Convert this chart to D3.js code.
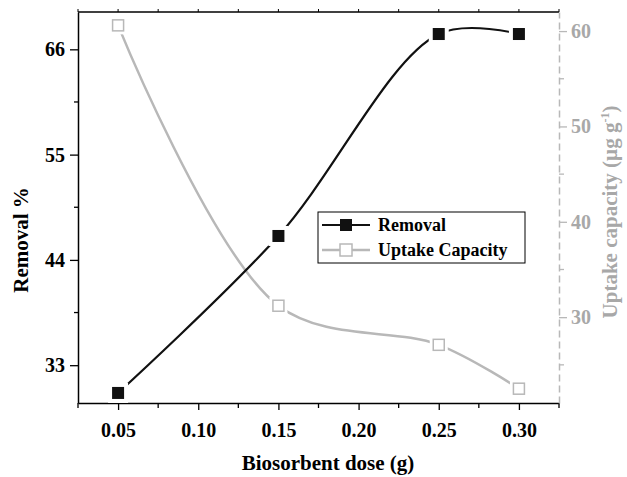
<!DOCTYPE html>
<html lang="en">
<head>
    <meta charset="UTF-8">
    <title>Removal and uptake capacity</title>
    <style>
        body { margin: 0; background: #fff; }
        svg text { font-family: "Liberation Serif", "DejaVu Serif", serif; font-weight: bold; }
    </style>
</head>

<body>
    <div id="graph"></div>
    <script src="https://d3js.org/d3.v7.min.js"></script>

    <script>
        // Data
        const DOSES = [0.05, 0.15, 0.25, 0.30];
        const REMOVAL = [30.1, 46.5, 67.6, 67.6];
        const UPTAKE = [60.6, 31.2, 27.1, 22.5];
        const X_TICKS = [0.05, 0.10, 0.15, 0.20, 0.25, 0.30];
        const LEFT_TICKS = [33, 44, 55, 66];
        const RIGHT_TICKS = [30, 40, 50, 60];
        const SERIES_NAMES = ["Removal", "Uptake Capacity"];

        const WIDTH = 627;
        const HEIGHT = 477;
        const LEFT = 78, RIGHT = 559, TOP = 12, BOTTOM = 403;
        const GREY = "#b8b8b8";
        const GREY_TEXT = "#a8a8a8";

        const xScale = d3.scaleLinear().domain([0.025, 0.325]).range([LEFT, RIGHT]);
        const yLeft = d3.scaleLinear().domain([29.05, 69.9]).range([BOTTOM, TOP]);
        const yRight = d3.scaleLinear().domain([21, 62]).range([BOTTOM, TOP]);

        const svg = d3.select("#graph")
            .append("svg")
            .attr("width", WIDTH)
            .attr("height", HEIGHT);

        // minor ticks halfway between the labelled ones
        const xMinor = d3.range(0.025, 0.3251, 0.025).filter(v => !X_TICKS.some(t => Math.abs(t - v) < 1e-6));
        const leftMinor = LEFT_TICKS.map(v => v + 5.5);
        const rightMinor = [25, 35, 45, 55];

        // bottom axis
        const bottom = svg.append("g").attr("transform", `translate(0, ${BOTTOM})`);
        bottom.call(d3.axisBottom(xScale).tickValues(X_TICKS).tickFormat(d3.format(".2f")).tickSize(7).tickSizeOuter(0));
        bottom.selectAll("g.minor").data(xMinor).enter()
            .append("line").attr("x1", d => xScale(d)).attr("x2", d => xScale(d))
            .attr("y1", 0).attr("y2", 5).attr("stroke", "#000").attr("stroke-width", 1.3);
        bottom.select(".domain").attr("stroke-width", 1.5);
        bottom.selectAll(".tick line").attr("stroke-width", 1.3);
        bottom.selectAll(".tick text").attr("dy", 0).attr("y", 34).attr("font-size", 20).attr("fill", "#000");

        // top frame with small ticks
        svg.append("line").attr("x1", LEFT).attr("x2", RIGHT).attr("y1", TOP).attr("y2", TOP)
            .attr("stroke", "#000").attr("stroke-width", 1.5);
        svg.selectAll("line.topTick").data(X_TICKS.concat(xMinor)).enter()
            .append("line").attr("class", "topTick")
            .attr("x1", d => xScale(d)).attr("x2", d => xScale(d))
            .attr("y1", TOP).attr("y2", TOP - 3).attr("stroke", "#000").attr("stroke-width", 1);

        // left axis
        const left = svg.append("g").attr("transform", `translate(${LEFT}, 0)`);
        left.call(d3.axisLeft(yLeft).tickValues(LEFT_TICKS).tickSize(8).tickSizeOuter(0));
        left.selectAll("line.minor").data(leftMinor).enter()
            .append("line").attr("x1", 0).attr("x2", -4)
            .attr("y1", d => yLeft(d)).attr("y2", d => yLeft(d)).attr("stroke", "#000").attr("stroke-width", 1.3);
        left.select(".domain").attr("stroke-width", 1.5);
        left.selectAll(".tick line").attr("stroke-width", 1.3);
        left.selectAll(".tick text").attr("x", -13).attr("font-size", 20).attr("fill", "#000");

        // right axis, dashed grey
        const right = svg.append("g").attr("transform", `translate(${RIGHT}, 0)`);
        right.call(d3.axisRight(yRight).tickValues(RIGHT_TICKS).tickSize(8).tickSizeOuter(0));
        right.select(".domain").attr("stroke", GREY).attr("stroke-width", 1.5).attr("stroke-dasharray", "7,4");
        right.selectAll(".tick line").attr("stroke", GREY).attr("stroke-width", 1.3);
        right.selectAll("line.minor").data(rightMinor).enter()
            .append("line").attr("x1", 0).attr("x2", 5)
            .attr("y1", d => yRight(d)).attr("y2", d => yRight(d)).attr("stroke", GREY).attr("stroke-width", 1.3);
        right.selectAll(".tick text").attr("x", 12).attr("font-size", 20).attr("fill", GREY_TEXT);

        // axis titles
        svg.append("text").attr("x", 328).attr("y", 470).attr("text-anchor", "middle")
            .attr("font-size", 21).text("Biosorbent dose (g)");
        svg.append("text").attr("transform", "translate(28, 240) rotate(-90)").attr("text-anchor", "middle")
            .attr("font-size", 21).text("Removal %");
        const rTitle = svg.append("text").attr("transform", "translate(617, 212) rotate(-90)")
            .attr("text-anchor", "middle").attr("font-size", 21).attr("fill", GREY_TEXT);
        rTitle.append("tspan").text("Uptake capacity (\u00b5g g");
        rTitle.append("tspan").attr("dy", -8).attr("font-size", 12).text("-1");
        rTitle.append("tspan").attr("dy", 8).text(")");

        const removalPts = DOSES.map((d, i) => [xScale(d), yLeft(REMOVAL[i])]);
        const uptakePts = DOSES.map((d, i) => [xScale(d), yRight(UPTAKE[i])]);
        const line = d3.line().curve(d3.curveCatmullRom.alpha(0.5));

        // uptake series: grey line, white gap around markers, hollow squares
        svg.append("path").attr("d", line(uptakePts)).attr("fill", "none")
            .attr("stroke", GREY).attr("stroke-width", 2.5);
        svg.selectAll("rect.uGap").data(uptakePts).enter().append("rect")
            .attr("x", d => d[0] - 9).attr("y", d => d[1] - 9).attr("width", 18).attr("height", 18).attr("fill", "#fff");
        svg.selectAll("rect.uMark").data(uptakePts).enter().append("rect")
            .attr("x", d => d[0] - 5.5).attr("y", d => d[1] - 5.5).attr("width", 11).attr("height", 11)
            .attr("fill", "#fff").attr("stroke", GREY).attr("stroke-width", 1.5);

        // removal series: black line and filled squares
        svg.append("path").attr("d", line(removalPts)).attr("fill", "none")
            .attr("stroke", "#111").attr("stroke-width", 2.2);
        svg.selectAll("rect.rGap").data(removalPts).enter().append("rect")
            .attr("x", d => d[0] - 10).attr("y", d => d[1] - 10).attr("width", 20).attr("height", 20).attr("fill", "#fff");
        svg.selectAll("rect.rMark").data(removalPts).enter().append("rect")
            .attr("x", d => d[0] - 6).attr("y", d => d[1] - 6).attr("width", 12).attr("height", 12)
            .attr("fill", "#111");

        // legend
        const legend = svg.append("g").attr("transform", "translate(318, 212)");
        legend.append("rect").attr("width", 207).attr("height", 51)
            .attr("fill", "#fff").attr("stroke", "#000").attr("stroke-width", 1);
        SERIES_NAMES.forEach((name, i) => {
            const y = 13 + i * 25;
            const colour = i === 0 ? "#111" : GREY;
            legend.append("line").attr("x1", 4).attr("x2", 52).attr("y1", y).attr("y2", y)
                .attr("stroke", colour).attr("stroke-width", i === 0 ? 2.2 : 2.5);
            legend.append("rect").attr("x", 28 - 6).attr("y", y - 6).attr("width", 12).attr("height", 12)
                .attr("fill", i === 0 ? "#111" : "#fff").attr("stroke", i === 0 ? "none" : GREY).attr("stroke-width", 1.5);
            legend.append("text").attr("x", 60).attr("y", y + 6).attr("font-size", 18).text(name);
        });
    </script>
</body>
</html>
